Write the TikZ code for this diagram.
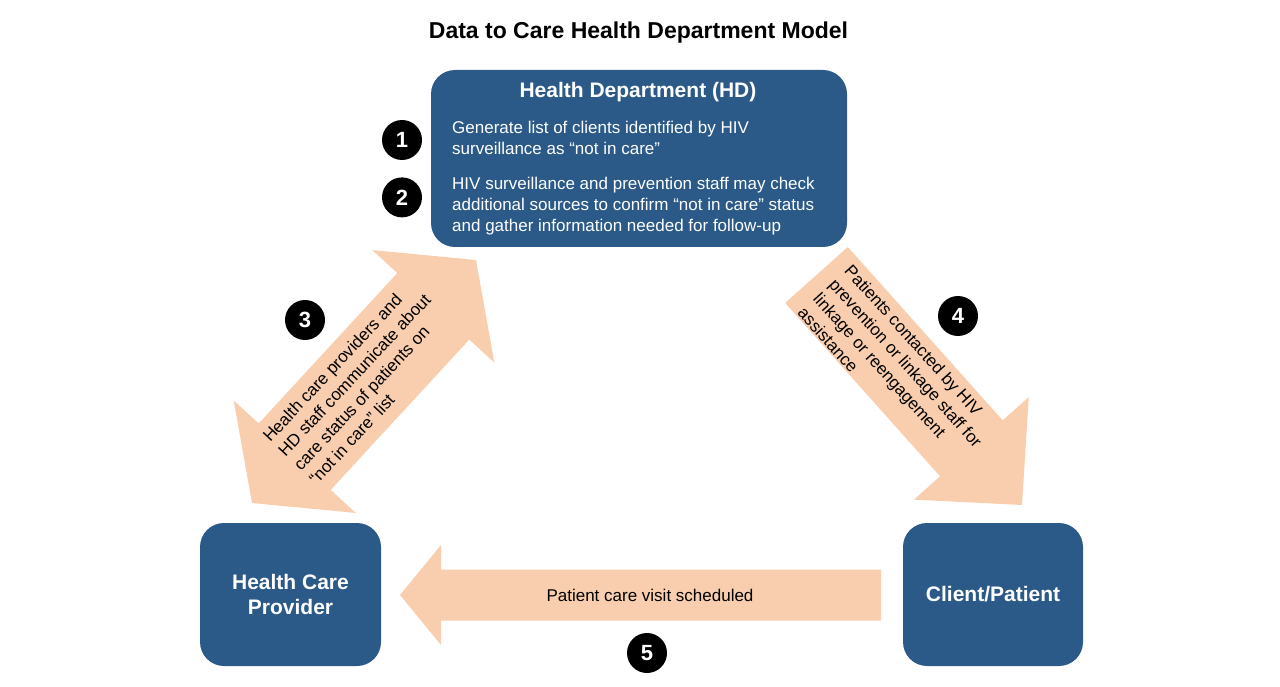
\documentclass[tikz,border=0pt]{standalone}
\usepackage{fontspec}
\setmainfont{Liberation Sans}
\usepackage{tikz}
\usetikzlibrary{positioning,calc}
\definecolor{hdblue}{RGB}{44,90,136}
\definecolor{peach}{RGB}{248,206,174}
\tikzset{
  box/.style={rectangle, rounded corners=24pt, fill=hdblue, text=white, align=center,
    font=\fontsize{21}{25}\selectfont\bfseries},
  head/.style={text=white, inner sep=0pt, font=\fontsize{21}{25}\selectfont\bfseries},
  num/.style={circle, fill=black, text=white, minimum size=40pt, inner sep=0pt,
    font=\fontsize{22}{22}\selectfont\bfseries},
  note/.style={inner sep=0pt, align=left, font=\fontsize{17}{21}\selectfont},
}
\newcommand\onearrow[5]{%
  \fill[peach] ($(#1)!#3!90:(#2)$) -- ($(#2)!#5!(#1)!#3!90:(#2)$)
    -- ($(#2)!#5!(#1)!#4!90:(#2)$) -- (#2) -- ($(#2)!#5!(#1)!#4!-90:(#2)$)
    -- ($(#2)!#5!(#1)!#3!-90:(#2)$) -- ($(#1)!#3!-90:(#2)$) -- cycle;}
\newcommand\twoarrow[5]{%
  \fill[peach] (#1) -- ($(#1)!#5!(#2)!#4!90:(#2)$) -- ($(#1)!#5!(#2)!#3!90:(#2)$)
    -- ($(#2)!#5!(#1)!#3!90:(#2)$) -- ($(#2)!#5!(#1)!#4!90:(#2)$) -- (#2)
    -- ($(#2)!#5!(#1)!#4!-90:(#2)$) -- ($(#2)!#5!(#1)!#3!-90:(#2)$)
    -- ($(#1)!#5!(#2)!#3!-90:(#2)$) -- ($(#1)!#5!(#2)!#4!-90:(#2)$) -- cycle;}
\begin{document}
\begin{tikzpicture}[x=1pt, y=-1pt]
\useasboundingbox (0,0) rectangle (1280,687);
\coordinate (a3a) at (252,503);
\coordinate (a3b) at (476,260);
\coordinate (a4a) at (816.5,275);
\coordinate (a4b) at (1022,505);
\coordinate (a5a) at (881,595);
\coordinate (a5b) at (400,595);
\twoarrow{a3a}{a3b}{49pt}{83pt}{63pt}
\onearrow{a4a}{a4b}{42pt}{77pt}{76pt}
\onearrow{a5a}{a5b}{25.5pt}{50pt}{41pt}

\node[anchor=base, font=\fontsize{23}{23}\selectfont\bfseries] at (638.5,38.5) (title) {Data to Care Health Department Model};
\node[box, minimum width=416pt, minimum height=177pt] at (639,158.5) (hd) {};
\node[head, anchor=base] at (638,97.3) (hdt) {Health Department (HD)};
\node[note, text=white, anchor=north west] at (452,120.5) (s1) {Generate list of clients identified by HIV\\surveillance as “not in care”};
\node[note, text=white, anchor=north west] at (452,177) (s2) {HIV surveillance and prevention staff may check\\additional sources to confirm “not in care” status\\and gather information needed for follow-up};
\node[box, minimum width=181pt, minimum height=143pt] at (290.5,594.5) (hcp) {Health Care\\Provider};
\node[box, minimum width=180pt, minimum height=143pt] at (993,594.5) (cp) {Client/Patient};

\node[note, rotate=47] at (362,382) (t3) {Health care providers and\\HD staff communicate about\\care status of patients on\\“not in care” list};
\node[note, rotate=-48] at (898,370) (t4) {Patients contacted by HIV\\prevention or linkage staff for\\linkage or reengagement\\assistance};
\node[note, anchor=base] at (650,601.7) (t5) {Patient care visit scheduled};

\node[num] at (402,140) (n1) {1};
\node[num, below=17pt of n1] (n2) {2};
\node[num] at (305,320) (n3) {3};
\node[num] at (958,316) (n4) {4};
\node[num] at (647,653) (n5) {5};
\end{tikzpicture}
\end{document}
